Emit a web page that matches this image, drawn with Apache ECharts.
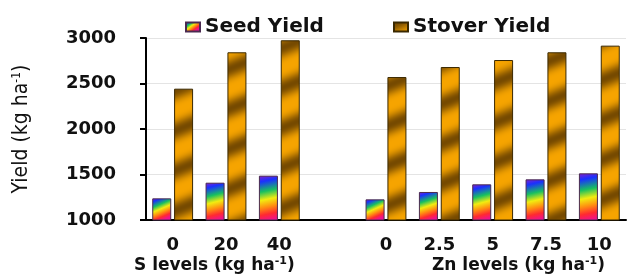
<!DOCTYPE html>
<html><head><meta charset="utf-8">
<script src="https://cdn.jsdelivr.net/npm/echarts@6/dist/echarts.min.js"></script>
<style>html,body{margin:0;padding:0;background:#fff}#c{width:628px;height:278px}</style>
</head><body><div id="c"></div>
<script>
const categories = ['0', '20', '40', '', '0', '2.5', '5', '7.5', '10'];
const seedYield = [1238, 1410, 1487, null, 1227, 1308, 1392, 1447, 1513];
const stoverYield = [2443, 2843, 2975, null, 2571, 2681, 2758, 2843, 2916];
const yMin = 1000, yMax = 3000, yInterval = 500;
const seriesNames = ['Seed Yield', 'Stover Yield'];
const groupLabels = ['S levels (kg ha', 'Zn levels (kg ha'];

function stoverPattern() {
  const W = 100, H = 40;
  const c = document.createElement('canvas');
  c.width = W; c.height = H;
  const ctx = c.getContext('2d');
  const img = ctx.createImageData(W, H);
  const a = [246, 164, 0], b = [118, 74, 0];
  for (let y = 0; y < H; y++) {
    for (let x = 0; x < W; x++) {
      let t = (x / W + y / H) % 1;
      let k = Math.pow(0.5 + 0.5 * Math.cos(2 * Math.PI * t), 1.6);
      const i = (y * W + x) * 4;
      img.data[i] = a[0] * (1 - k) + b[0] * k;
      img.data[i + 1] = a[1] * (1 - k) + b[1] * k;
      img.data[i + 2] = a[2] * (1 - k) + b[2] * k;
      img.data[i + 3] = 255;
    }
  }
  ctx.putImageData(img, 0, 0);
  return c;
}

const seedColor = {
  type: 'linear', x: 0, y: 0, x2: 0.5, y2: 1,
  colorStops: [
    { offset: 0, color: '#8a20c8' },
    { offset: 0.14, color: '#1a30ff' },
    { offset: 0.36, color: '#18c060' },
    { offset: 0.54, color: '#f2ec10' },
    { offset: 0.7, color: '#ff9010' },
    { offset: 0.86, color: '#ff2a30' },
    { offset: 1, color: '#f01090' }
  ]
};
const stoverColor = { image: stoverPattern(), repeat: 'repeat' };

const boldFont = 'DejaVu Sans';
const titleFont = "'DejaVu Sans Condensed', 'Liberation Sans', sans-serif";
const chart = echarts.init(document.getElementById('c'), null, { renderer: 'canvas' });
chart.setOption({
  animation: false,
  backgroundColor: '#ffffff',
  legend: [
    { data: [seriesNames[0]], left: 180, top: 12, icon: 'rect', itemWidth: 14, itemHeight: 9, itemGap: 10,
      textStyle: { fontFamily: boldFont, fontWeight: 'bold', fontSize: 20, color: '#111' } },
    { data: [seriesNames[1]], left: 388, top: 12, icon: 'rect', itemWidth: 14, itemHeight: 9, itemGap: 10,
      textStyle: { fontFamily: boldFont, fontWeight: 'bold', fontSize: 20, color: '#111' } }
  ],
  grid: { left: 146, right: 2, top: 38, bottom: 58, containLabel: false },
  xAxis: {
    type: 'category', data: categories,
    axisLine: { lineStyle: { color: '#000', width: 2 } },
    axisTick: { alignWithLabel: true, length: 4, lineStyle: { color: '#000', width: 2 } },
    axisLabel: { margin: 16, fontFamily: boldFont, fontWeight: 'bold', fontSize: 18, color: '#111' }
  },
  yAxis: {
    type: 'value', min: yMin, max: yMax, interval: yInterval,
    name: 'Yield (kg ha{sup|-1})', nameLocation: 'middle', nameGap: 114, nameRotate: 90,
    nameTextStyle: { fontFamily: titleFont, fontSize: 21, color: '#111',
      rich: { sup: { fontFamily: titleFont, fontSize: 12, padding: [0, 0, 9, 0], color: '#111' } } },
    axisLine: { show: true, lineStyle: { color: '#000', width: 2 } },
    axisTick: { show: true, length: 6, lineStyle: { color: '#000', width: 2 } },
    splitLine: { lineStyle: { color: '#e4e4e4', width: 1 } },
    axisLabel: { margin: 30, fontFamily: boldFont, fontWeight: 'bold', fontSize: 18, color: '#111',
      formatter: v => String(v) }
  },
  series: [
    { name: seriesNames[0], type: 'bar', data: seedYield, barWidth: 19, barGap: '15%',
      itemStyle: { color: seedColor, borderColor: '#4a2a50', borderWidth: 1 } },
    { name: seriesNames[1], type: 'bar', data: stoverYield, barWidth: 19,
      itemStyle: { color: stoverColor, borderColor: '#3a2800', borderWidth: 1 } }
  ],
  graphic: [
    { type: 'text', left: 134, top: 256,
      style: { text: groupLabels[0] + '{sup|-1})', fontFamily: boldFont, fontWeight: 'bold', fontSize: 17, fill: '#111',
        rich: { sup: { fontFamily: boldFont, fontWeight: 'bold', fontSize: 11, padding: [0, 0, 8, 0], fill: '#111' } } } },
    { type: 'text', left: 432, top: 256,
      style: { text: groupLabels[1] + '{sup|-1})', fontFamily: boldFont, fontWeight: 'bold', fontSize: 17, fill: '#111',
        rich: { sup: { fontFamily: boldFont, fontWeight: 'bold', fontSize: 11, padding: [0, 0, 8, 0], fill: '#111' } } } }
  ]
});
</script></body></html>
